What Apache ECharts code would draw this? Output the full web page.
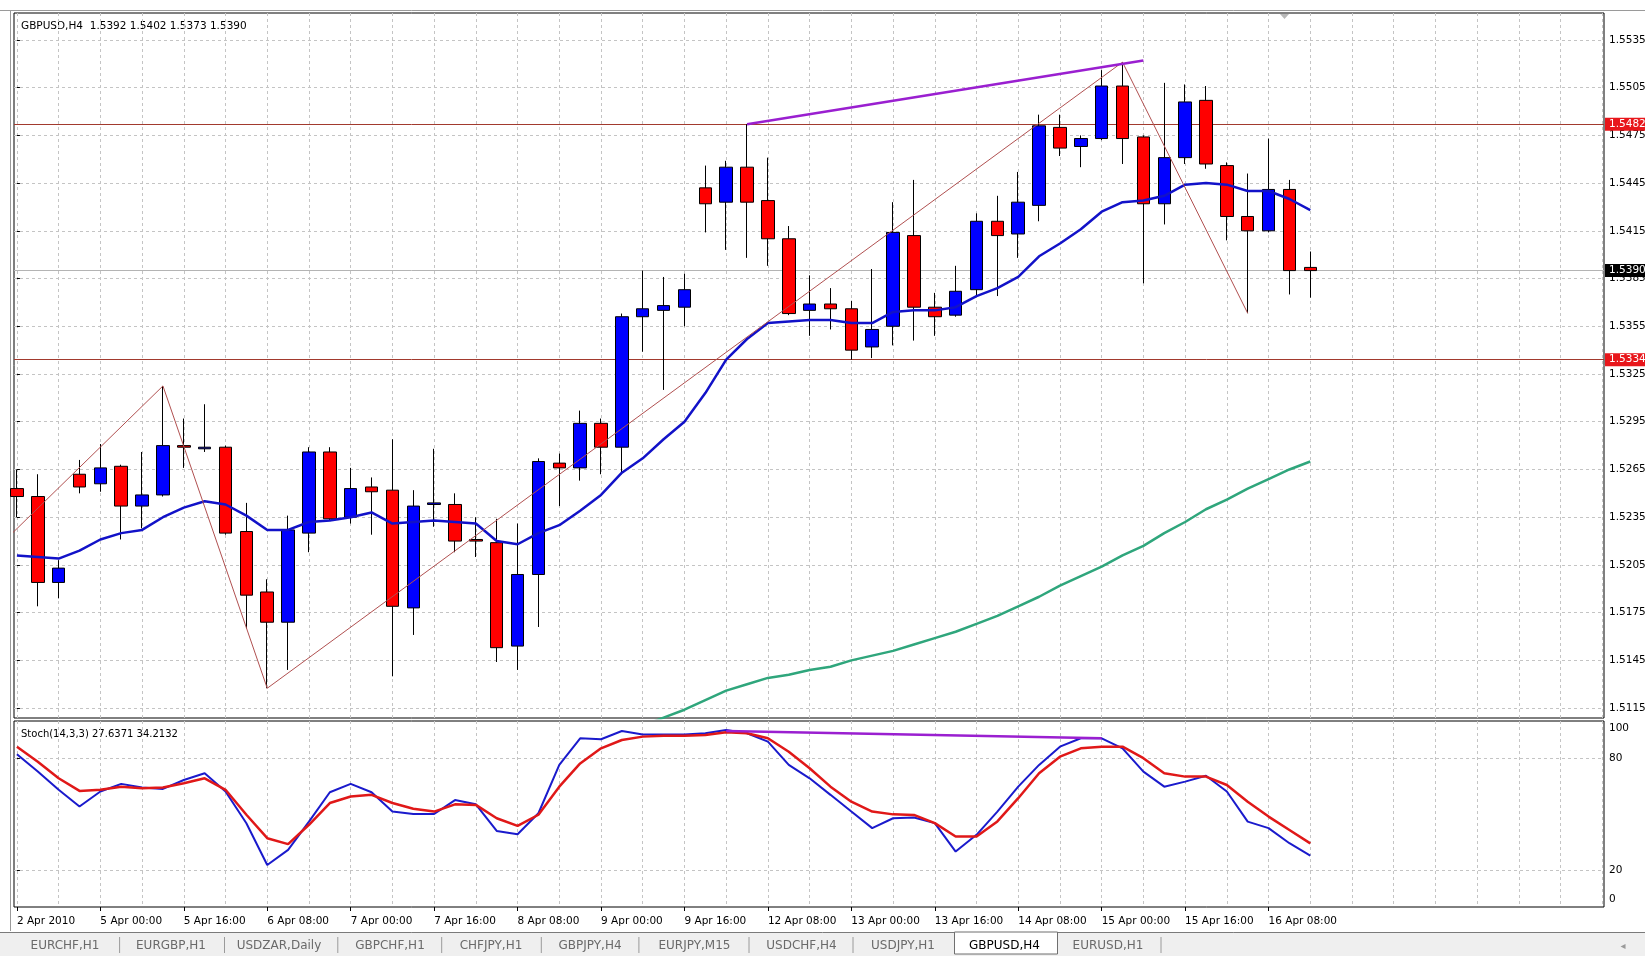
<!DOCTYPE html>
<html>
<head>
<meta charset="utf-8">
<title>GBPUSD,H4</title>
<script src="https://cdn.jsdelivr.net/npm/echarts@6/dist/echarts.min.js"></script>
<style>
  html, body { margin: 0; padding: 0; background: #ffffff; }
  #chart { width: 1645px; height: 956px; }
</style>
</head>
<body>
<div id="chart"></div>
<script>
// ---- GBPUSD H4 candles (bar index = position on the time axis) ----
const open = [
  1.5253, 1.5248, 1.5194, 1.5262, 1.5256, 1.5267, 1.5242, 1.5249, 1.5280, 1.5278,
  1.5279, 1.5226, 1.5188, 1.5169, 1.5225, 1.5276, 1.5235, 1.5254, 1.5252, 1.5178,
  1.5243, 1.5243, 1.5221, 1.5219, 1.5154, 1.5199, 1.5269, 1.5266, 1.5294, 1.5279,
  1.5361, 1.5365, 1.5367, 1.5442, 1.5433, 1.5455, 1.5434, 1.5410, 1.5365, 1.5369,
  1.5366, 1.5342, 1.5355, 1.5412, 1.5367, 1.5362, 1.5378, 1.5421, 1.5413, 1.5431,
  1.5480, 1.5468, 1.5473, 1.5506, 1.5474, 1.5432, 1.5461, 1.5497, 1.5456, 1.5424,
  1.5415, 1.5441, 1.5392
];
const high = [
  1.5265, 1.5262, 1.5208, 1.5271, 1.5281, 1.5268, 1.5276, 1.53175, 1.5297, 1.5306,
  1.5280, 1.5244, 1.5196, 1.5236, 1.5279, 1.5279, 1.5266, 1.5260, 1.5284, 1.5252,
  1.5278, 1.5250, 1.5235, 1.5234, 1.5231, 1.5272, 1.5275, 1.5302, 1.5297, 1.5363,
  1.5390, 1.5386, 1.5388, 1.5456, 1.5459, 1.5482, 1.5461, 1.5418, 1.5387, 1.5379,
  1.5371, 1.5391, 1.5433, 1.5447, 1.5376, 1.5393, 1.5426, 1.5437, 1.5452, 1.5488,
  1.5488, 1.5475, 1.5516, 1.5521, 1.5475, 1.5508, 1.5507, 1.5506, 1.5458, 1.5451,
  1.5473, 1.5447, 1.5402
];
const low = [
  1.5235, 1.5179, 1.5184, 1.5250, 1.5251, 1.5221, 1.5228, 1.5248, 1.5266, 1.5276,
  1.5224, 1.5165, 1.51275, 1.5139, 1.5213, 1.5233, 1.5231, 1.5224, 1.5135, 1.5161,
  1.5229, 1.5213, 1.5210, 1.5144, 1.5139, 1.5166, 1.5242, 1.5258, 1.5262, 1.5262,
  1.5339, 1.5315, 1.5355, 1.5414, 1.5403, 1.5398, 1.5393, 1.5362, 1.5349, 1.5353,
  1.5334, 1.5335, 1.5343, 1.5346, 1.5349, 1.5361, 1.5374, 1.5374, 1.5398, 1.5421,
  1.5462, 1.5455, 1.5472, 1.5457, 1.5382, 1.5419, 1.5457, 1.5454, 1.5409, 1.53632,
  1.5414, 1.5375, 1.5373
];
const close = [
  1.5248, 1.5194, 1.5203, 1.5254, 1.5266, 1.5242, 1.5249, 1.5280, 1.5279, 1.5279,
  1.5225, 1.5186, 1.5169, 1.5227, 1.5276, 1.5234, 1.5253, 1.5251, 1.5179, 1.5242,
  1.5244, 1.5220, 1.5220, 1.5153, 1.5199, 1.5270, 1.5266, 1.5294, 1.5279, 1.5361,
  1.5366, 1.5368, 1.5378, 1.5432, 1.5455, 1.5433, 1.5410, 1.5363, 1.5369, 1.5366,
  1.5340, 1.5353, 1.5414, 1.5367, 1.5361, 1.5377, 1.5421, 1.5412, 1.5433, 1.5481,
  1.5467, 1.5473, 1.5506, 1.5473, 1.5432, 1.5461, 1.5496, 1.5457, 1.5424, 1.5415,
  1.5441, 1.5390, 1.5390
];

// ---- moving averages ----
const maFast = [
  1.5211, 1.5210, 1.5209, 1.5214, 1.5221, 1.5225, 1.5227, 1.5235, 1.5241, 1.5245,
  1.5243, 1.5236, 1.5227, 1.5227, 1.5232, 1.5233, 1.5235, 1.5238, 1.5231, 1.5232,
  1.5233, 1.5232, 1.5231, 1.5220, 1.5218, 1.5225, 1.5230, 1.5239, 1.5249, 1.5263,
  1.5272, 1.5284, 1.5295, 1.5313, 1.5334, 1.5347, 1.5357, 1.5358, 1.5359, 1.5359,
  1.5357, 1.5357, 1.5364, 1.5365, 1.5365, 1.5367, 1.5374, 1.5379, 1.5386, 1.5399,
  1.5407, 1.5416, 1.5427, 1.5433, 1.5434, 1.5437, 1.5444, 1.5445, 1.5444, 1.5440,
  1.5440, 1.5435, 1.5428
];
const maSlowStart = 30;
const maSlow = [
  1.5104, 1.5109, 1.5114, 1.5120, 1.5126, 1.5130, 1.5134, 1.5136, 1.5139, 1.5141,
  1.5145, 1.5148, 1.5151, 1.5155, 1.5159, 1.5163, 1.5168, 1.5173, 1.5179, 1.5185,
  1.5192, 1.5198, 1.5204, 1.5211, 1.5217, 1.5225, 1.5232, 1.5240, 1.5246, 1.5253,
  1.5259, 1.5265, 1.5270
];

// ---- ZigZag pivots [bar, price] and trend line ----
const zigzag = [[-1, 1.5215], [7, 1.53175], [12, 1.51275], [53, 1.5521], [59, 1.53632]];
const priceTrend = [[35, 1.5482], [54, 1.5522]];

// ---- levels ----
const resistance = 1.5482;
const support = 1.5334;
const bid = 1.5390;

// ---- Stochastic(14,3,3) ----
const stochMain = [
  82.1, 72.8, 63.0, 54.0, 62.1, 66.2, 64.2, 63.5, 68.3, 71.9,
  62.1, 45.0, 22.6, 30.7, 45.9, 61.7, 66.2, 61.7, 51.3, 50.0,
  50.0, 57.5, 55.2, 40.9, 39.1, 50.4, 76.4, 90.7, 90.2, 94.6,
  92.8, 92.8, 92.8, 93.4, 95.2, 93.4, 88.9, 76.4, 69.2, 60.3,
  51.3, 42.4, 47.7, 48.1, 45.1, 29.8, 38.8, 51.3, 64.7, 76.4,
  86.2, 90.7, 90.7, 85.3, 72.8, 64.7, 67.4, 70.6, 62.1, 45.9,
  42.4, 34.3, 27.6371
];
const stochSignal = [
  86.2, 78.1, 69.2, 62.4, 63.0, 64.7, 63.8, 64.2, 66.5, 69.2,
  63.0, 49.6, 37.0, 33.8, 44.2, 55.9, 59.4, 60.3, 55.9, 52.8,
  51.3, 55.2, 54.9, 47.7, 43.6, 49.6, 64.7, 77.2, 85.3, 89.8,
  91.6, 92.1, 92.1, 92.5, 93.9, 93.4, 90.7, 83.5, 74.6, 64.7,
  56.6, 51.3, 49.8, 49.5, 45.1, 37.9, 37.9, 46.0, 58.5, 71.9,
  80.8, 85.3, 86.2, 86.2, 80.0, 71.9, 70.1, 70.1, 65.6, 56.6,
  48.6, 41.4, 34.2132
];
const stochTrend = [[34, 94.6], [52, 90.7]];

// ---- axis labels ----
const priceTicks = [1.5115, 1.5145, 1.5175, 1.5205, 1.5235, 1.5265, 1.5295, 1.5325,
  1.5355, 1.5385, 1.5415, 1.5445, 1.5475, 1.5505, 1.5535];
const stochLevels = [20, 80];
const stochLabels = [0, 20, 80, 100];
const timeBars = [0, 4, 8, 12, 16, 20, 24, 28, 32, 36, 40, 44, 48, 52, 56, 60];
const timeLabels = ['2 Apr 2010', '5 Apr 00:00', '5 Apr 16:00', '6 Apr 08:00', '7 Apr 00:00',
  '7 Apr 16:00', '8 Apr 08:00', '9 Apr 00:00', '9 Apr 16:00', '12 Apr 08:00', '13 Apr 00:00',
  '13 Apr 16:00', '14 Apr 08:00', '15 Apr 00:00', '15 Apr 16:00', '16 Apr 08:00'];
const tabs = ['EURCHF,H1', 'EURGBP,H1', 'USDZAR,Daily', 'GBPCHF,H1', 'CHFJPY,H1', 'GBPJPY,H4',
  'EURJPY,M15', 'USDCHF,H4', 'USDJPY,H1', 'GBPUSD,H4', 'EURUSD,H1'];
const activeTab = 'GBPUSD,H4';

// ---- layout ----
const FONT = 'DejaVu Sans';
const X_MIN = -0.14, X_MAX = 76.08;       // visible bar range incl. right shift
const P_MIN = 1.51088, P_MAX = 1.55519;   // visible price range
const gridLines = [];
for (let b = 0; b <= 76; b += 2) gridLines.push(b);

const candles = open.map((o, i) => [i, o, close[i], low[i], high[i]]);
const dashed = { show: true, lineStyle: { color: '#c4c4c4', width: 1, type: [3, 3] } };

function xAxisBase(gridIndex) {
  return {
    type: 'value', gridIndex, min: X_MIN, max: X_MAX,
    axisLine: { show: false },
    axisTick: { show: false, customValues: gridLines },
    axisLabel: { show: false },
    splitLine: dashed
  };
}

const levelLabel = (bg) => ({
  show: true, position: 'end', distance: 1,
  formatter: (p) => Number(p.value).toFixed(4),
  color: '#ffffff', backgroundColor: bg,
  fontFamily: FONT, fontSize: 10.5, padding: [1, 3, 1, 4]
});

const tabCenters = [65, 171, 279, 390, 491, 590, 694.5, 801.5, 903, 1004.5, 1108];
const tabSeps = [119.6, 224.5, 337.8, 441.7, 541.3, 638.9, 749, 853, 1161];

const graphics = [
  // window frame
  { type: 'line', shape: { x1: 0, y1: 10.5, x2: 1645, y2: 10.5 }, style: { stroke: '#9a9a9a', lineWidth: 1 } },
  { type: 'line', shape: { x1: 10.5, y1: 10, x2: 10.5, y2: 931 }, style: { stroke: '#9a9a9a', lineWidth: 1 } },
  // chart shift marker
  { type: 'polygon', shape: { points: [[1280, 14], [1289, 14], [1284.5, 19]] }, style: { fill: '#b8b8b8' } },
  // headers
  { type: 'text', x: 21, y: 26, style: { text: 'GBPUSD,H4  1.5392 1.5402 1.5373 1.5390', fontFamily: FONT, fontSize: 10.5, fill: '#000', verticalAlign: 'middle' } },
  { type: 'text', x: 21, y: 734, style: { text: 'Stoch(14,3,3) 27.6371 34.2132', fontFamily: FONT, fontSize: 10, fill: '#000', verticalAlign: 'middle' } },
  // tab bar
  { type: 'rect', shape: { x: 0, y: 932, width: 1645, height: 24 }, style: { fill: '#efefef' }, silent: true },
  { type: 'line', shape: { x1: 0, y1: 932.5, x2: 1645, y2: 932.5 }, style: { stroke: '#7a7a7a', lineWidth: 1 } },
  { type: 'rect', shape: { x: 954.5, y: 932, width: 103, height: 22 }, style: { fill: '#ffffff', stroke: '#6f6f6f', lineWidth: 1 } },
  { type: 'text', x: 1623, y: 946, style: { text: '◂', fontFamily: FONT, fontSize: 10, fill: '#9a9a9a', align: 'center', verticalAlign: 'middle' } }
];
tabs.forEach((t, i) => {
  graphics.push({ type: 'text', x: tabCenters[i], y: 945.5,
    style: { text: t, fontFamily: FONT, fontSize: 12, fill: t === activeTab ? '#000000' : '#6a6a6a', align: 'center', verticalAlign: 'middle' } });
});
tabSeps.forEach((x) => {
  graphics.push({ type: 'line', shape: { x1: x, y1: 937, x2: x, y2: 953 }, style: { stroke: '#9a9a9a', lineWidth: 1 } });
});

const option = {
  animation: false,
  backgroundColor: '#ffffff',
  textStyle: { fontFamily: FONT },
  grid: [
    { left: 14, right: 41, top: 13, height: 705, outerBoundsMode: 'none', containLabel: false,
      show: true, borderColor: '#000', borderWidth: 1, backgroundColor: '#fff' },
    { left: 14, right: 41, top: 721, height: 186, outerBoundsMode: 'none', containLabel: false,
      show: true, borderColor: '#000', borderWidth: 1, backgroundColor: '#fff' }
  ],
  xAxis: [
    xAxisBase(0),
    xAxisBase(1),
    {
      type: 'value', gridIndex: 1, min: X_MIN, max: X_MAX, position: 'bottom',
      axisLine: { show: false },
      axisTick: { show: true, customValues: timeBars, length: 4, inside: false, lineStyle: { color: '#000' } },
      axisLabel: {
        show: true, customValues: timeBars, align: 'left', margin: 9,
        fontFamily: FONT, fontSize: 10.5, color: '#000',
        formatter: (v) => timeLabels[timeBars.indexOf(Math.round(v))] || ''
      },
      splitLine: { show: false }
    }
  ],
  yAxis: [
    {
      type: 'value', gridIndex: 0, position: 'right', min: P_MIN, max: P_MAX, scale: true,
      axisLine: { show: false },
      axisTick: { show: true, customValues: priceTicks, length: 3, lineStyle: { color: '#000' } },
      axisLabel: { show: true, customValues: priceTicks, margin: 5, fontFamily: FONT, fontSize: 10.5, color: '#000',
        formatter: (v) => v.toFixed(4) },
      splitLine: dashed
    },
    {
      type: 'value', gridIndex: 1, position: 'right', min: 0, max: 100,
      axisLine: { show: false },
      axisTick: { show: true, customValues: stochLevels, length: 3, lineStyle: { color: '#000' } },
      axisLabel: {
        show: true, customValues: stochLabels, margin: 5, fontFamily: FONT, fontSize: 10.5, color: '#000',
        formatter: (v) => v === 100 ? '{t|100}' : (v === 0 ? '{b|0}' : String(v)),
        rich: {
          t: { padding: [15, 0, 0, 0], fontFamily: FONT, fontSize: 10.5, color: '#000' },
          b: { padding: [0, 0, 15, 0], fontFamily: FONT, fontSize: 10.5, color: '#000' }
        }
      },
      splitLine: dashed
    }
  ],
  graphic: graphics,
  series: [
    {
      name: 'GBPUSD,H4', type: 'candlestick', xAxisIndex: 0, yAxisIndex: 0,
      data: candles, encode: { x: 0, y: [1, 2, 3, 4] },
      barWidth: 13, clip: true, z: 3,
      itemStyle: { color: '#0000ff', color0: '#ff0000', borderColor: '#000000', borderColor0: '#000000', borderWidth: 1 },
      markLine: {
        symbol: 'none', silent: true, animation: false, precision: 4, z: 2,
        data: [
          { yAxis: resistance, lineStyle: { color: '#a23a2e', width: 1, type: 'solid' }, label: levelLabel('#e8161b') },
          { yAxis: support, lineStyle: { color: '#a23a2e', width: 1, type: 'solid' }, label: levelLabel('#e8161b') },
          { yAxis: bid, lineStyle: { color: '#b4b4b4', width: 1, type: 'solid' }, label: levelLabel('#000000') }
        ]
      }
    },
    {
      name: 'MA fast', type: 'line', xAxisIndex: 0, yAxisIndex: 0, z: 4,
      data: maFast.map((v, i) => [i, v]), showSymbol: false, clip: true,
      lineStyle: { color: '#1212c8', width: 2.5 }
    },
    {
      name: 'MA slow', type: 'line', xAxisIndex: 0, yAxisIndex: 0, z: 4,
      data: maSlow.map((v, i) => [i + maSlowStart, v]), showSymbol: false, clip: true,
      lineStyle: { color: '#2fa67c', width: 2.5 }
    },
    {
      name: 'ZigZag', type: 'line', xAxisIndex: 0, yAxisIndex: 0, z: 5,
      data: zigzag, showSymbol: false, clip: true,
      lineStyle: { color: '#b05050', width: 1 }
    },
    {
      name: 'Trend', type: 'line', xAxisIndex: 0, yAxisIndex: 0, z: 5,
      data: priceTrend, showSymbol: false, clip: true,
      lineStyle: { color: '#9a1fd0', width: 2.5 }
    },
    {
      name: '%K', type: 'line', xAxisIndex: 1, yAxisIndex: 1, z: 4,
      data: stochMain.map((v, i) => [i, v]), showSymbol: false, clip: true,
      lineStyle: { color: '#1a1acc', width: 2 }
    },
    {
      name: '%D', type: 'line', xAxisIndex: 1, yAxisIndex: 1, z: 4,
      data: stochSignal.map((v, i) => [i, v]), showSymbol: false, clip: true,
      lineStyle: { color: '#e01818', width: 2.5 }
    },
    {
      name: 'Stoch trend', type: 'line', xAxisIndex: 1, yAxisIndex: 1, z: 5,
      data: stochTrend, showSymbol: false, clip: true,
      lineStyle: { color: '#9a1fd0', width: 2.5 }
    }
  ]
};

const chart = echarts.init(document.getElementById('chart'), null, { renderer: 'canvas' });
chart.setOption(option);
</script>
</body>
</html>
